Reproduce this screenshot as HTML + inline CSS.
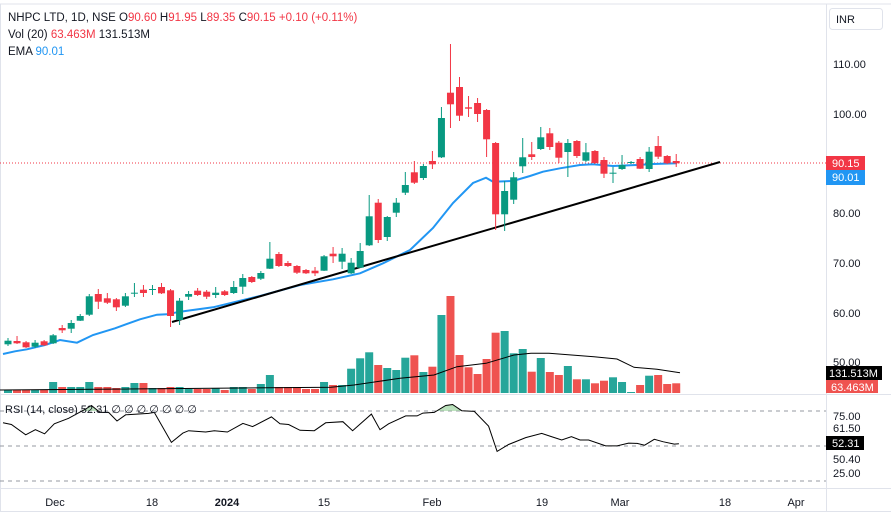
<!DOCTYPE html>
<html><head><meta charset="utf-8"><style>
html,body{margin:0;padding:0;background:#fff;}
svg{display:block;font-family:"Liberation Sans",sans-serif;}
</style></head><body>
<svg id="s" width="891" height="518" viewBox="0 0 891 518" xmlns="http://www.w3.org/2000/svg">
<rect width="891" height="518" fill="#fff"/>
<line x1="0" y1="4" x2="891" y2="4" stroke="#e0e3eb"/>
<line x1="826.5" y1="4" x2="826.5" y2="512" stroke="#e0e3eb"/>
<line x1="0" y1="394.5" x2="891" y2="394.5" stroke="#e0e3eb"/>
<line x1="0" y1="488.5" x2="891" y2="488.5" stroke="#e0e3eb"/>
<line x1="0" y1="511.5" x2="891" y2="511.5" stroke="#e0e3eb"/>
<line x1="0.5" y1="4" x2="0.5" y2="512" stroke="#e0e3eb"/>
<g id="vol"></g>
<polyline fill="none" stroke="#000" stroke-width="1" points="0,390 331,387.3 354,385 400,378.3 434,375 457,366.7 486,363.3 514,355 531,353.3 549,353.3 594,356.7 617,359 634,367.3 657,369.3 680,372.7"/>
<line x1="0" y1="163" x2="826" y2="163" stroke="#f23645" stroke-width="1" stroke-dasharray="1,2"/>
<polyline fill="none" stroke="#2196f3" stroke-width="2" points="3,354 15,351.3 27,349.3 45,345 60,340 77,342.7 93,335 115,328.3 140,319.3 157,314.7 167,314.3 180,311.7 213,307.3 260,296 300,285 333,279.3 360,273.3 383,263.3 410,250 433,228 453,203 473,183 486,177.7 493,181.7 513,181 530,176 543,171.7 560,168.3 580,165 593,164.3 613,166 637,165 653,164 677,163.3"/>
<line x1="172" y1="322" x2="720" y2="162" stroke="#000" stroke-width="2"/>
<g id="c"></g>
<text x="8" y="21" font-size="11.5" fill="#131722">NHPC LTD, 1D, NSE <tspan fill="#131722">O</tspan><tspan fill="#f23645">90.60</tspan> <tspan>H</tspan><tspan fill="#f23645">91.95</tspan> <tspan>L</tspan><tspan fill="#f23645">89.35</tspan> <tspan>C</tspan><tspan fill="#f23645">90.15</tspan> <tspan fill="#f23645">+0.10 (+0.11%)</tspan></text>
<text x="8" y="38" font-size="11.5" fill="#131722">Vol (20) <tspan fill="#f23645">63.463M</tspan> 131.513M</text>
<text x="8" y="55" font-size="11.5" fill="#131722">EMA <tspan fill="#2196f3">90.01</tspan></text>
<rect x="829.5" y="8.5" width="53" height="21" rx="3" fill="#fff" stroke="#e0e3eb"/>
<text x="836" y="23" font-size="11" fill="#131722">INR</text>
<g font-size="11" fill="#131722">
<text x="833" y="68">110.00</text><text x="833" y="118">100.00</text><text x="833" y="217">80.00</text>
<text x="833" y="267">70.00</text><text x="833" y="317">60.00</text><text x="833" y="366">50.00</text>
</g>
<rect x="826" y="156" width="39" height="14" fill="#f23645"/><text x="832" y="167" font-size="11" fill="#fff">90.15</text>
<rect x="826" y="170" width="39" height="15" fill="#2196f3"/><text x="832" y="181" font-size="11" fill="#fff">90.01</text>
<rect x="826" y="366" width="56" height="14" fill="#000"/><text x="829" y="377" font-size="11" fill="#fff">131.513M</text>
<rect x="826" y="380" width="52" height="13" fill="#ef5350"/><text x="831" y="391" font-size="11" fill="#fff">63.463M</text>
<!-- RSI -->
<g stroke="#9598a1" stroke-dasharray="4,4"><line x1="0" y1="411" x2="826" y2="411"/><line x1="0" y1="446" x2="826" y2="446"/><line x1="0" y1="481" x2="826" y2="481"/></g>
<defs><clipPath id="ob"><rect x="0" y="395" width="826" height="16"/></clipPath>
<linearGradient id="gg" x1="0" y1="0" x2="0" y2="1"><stop offset="0" stop-color="#81c784" stop-opacity="0.6"/><stop offset="1" stop-color="#c8e6c9" stop-opacity="0.2"/></linearGradient></defs>
<polygon id="rf" clip-path="url(#ob)" fill="url(#gg)" points=""/>
<polyline id="rl" fill="none" stroke="#000" stroke-width="1" points=""/>
<text x="5" y="413" font-size="11" fill="#131722">RSI (14, close) 52.31 ∅ ∅ ∅ ∅ ∅ ∅ ∅</text>
<g font-size="11" fill="#131722"><text x="833" y="420">75.00</text><text x="833" y="432">61.50</text><text x="833" y="463">50.40</text><text x="833" y="477">25.00</text></g>
<rect x="826" y="436" width="38" height="14" fill="#000"/><text x="832" y="447" font-size="11" fill="#fff">52.31</text>
<g font-size="11" fill="#131722" text-anchor="middle">
<text x="55" y="506">Dec</text><text x="152" y="506">18</text><text x="227" y="506" font-weight="bold">2024</text>
<text x="324" y="506">15</text><text x="432" y="506">Feb</text><text x="542" y="506">19</text>
<text x="620" y="506">Mar</text><text x="725" y="506">18</text><text x="796" y="506">Apr</text></g>
</svg>
<script>
var G='#089981',R='#f23645',NS='http://www.w3.org/2000/svg';
var d=[['g',340.7,344.3,338,346],['r',341,343.3,336,344],['r',342.3,347.3,341,348],['g',342.7,346.7,340,348],['r',341.3,345.3,340,346],['g',335.3,343.3,334,344],['r',328,330.3,325,333],['g',323,328.7,320,333],['g',316,320.7,314,321],['g',296.3,314.7,294,316],
['r',294,301.7,289,309],['r',298.3,302.7,293,304],['r',299.3,307.3,298,311],['g',296.3,305.7,293,307],['g',292.7,293.3,283,297],['r',289.7,293,285,297],['g',289,289.7,285,295],['r',287,293.3,283,294],['r',290.3,316,289,327],['g',300.7,320,298,325],
['g',294,296.7,291,300],['r',290.7,295,288,296],['r',291.7,296.7,290,299],['g',292.7,295,287,298],['r',291.3,295,290,296],['g',287,293,281,294],['g',278,286.7,274,294],['r',277,282,276,283],['g',273,278.7,271,280],['g',258.7,268.7,242,269],
['r',254,266,252,267],['r',263,266,261,267],['r',266,272.7,265,274],['r',270,273.3,269,274],['r',270.7,273.3,267,276],['g',256.3,270.7,255,271],['r',253.7,256.3,247,263],['g',253.7,261.7,248,269],['g',262.7,273.3,258,274],['g',251,267.7,243,268],
['g',216.3,245.3,195,246],['r',202.7,240,199,243],['g',217,237,216,241],['g',202.7,212.7,198,217],['g',185,192.7,172,195],['r',172.3,182.7,161,184],['g',166,178,164,180],['r',161,164.3,151,169],['g',118,157.3,107,158],['r',92.7,104.3,44,128],
['r',87,115.7,77,121],['r',107.3,108.7,96,117],['r',103,114,98,122],['r',110,139.3,109,157],['r',143,214.3,142,230],['g',191,214.3,181,231],['g',177.3,199.7,172,204],['g',157.3,166.3,138,173],['r',154.3,157,142,160],['g',137.3,149,127,150],
['r',133.3,147,128,150],['r',142.7,157.7,141,163],['g',143,152,139,177],['r',141,156,140,158],['g',152.3,160.7,143,162],['r',151,163,150,164],['r',160,173.7,157,178],['g',172.7,173.3,167,183],['g',165,169,155,170],['g',162,163,161,164],
['r',159,168.7,157,169],['g',151.7,169,147,172],['r',146,156.7,136,159],['r',156,163.3,155,164],['r',161,163.3,154,167]];
var vt=[390,390,390,390,390,382,387,387,387,382,387,387,388,387,383,383,388,388,387,387,389,389,389,388,390,387,387,389,384,375,387,387,387,389,389,382,385,385,368.7,358.3,352.3,365,368,370,357.7,355.3,372,366.7,315,296,355,367.3,374,359,332.7,331,353.3,349,371.7,358,372,375,366,379.3,379.3,383.3,380.7,377.3,382,392,385,375.7,375,384,383.3];
var c=document.getElementById('c'),v=document.getElementById('vol');
function el(p,t,a){var e=document.createElementNS(NS,t);for(var k in a)e.setAttribute(k,a[k]);p.appendChild(e);}
d.forEach(function(q,i){var x=8+i*9.03,col=q[0]=='g'?G:R;
el(c,'line',{x1:x,x2:x,y1:q[3],y2:q[4],stroke:col,'stroke-width':1});
el(c,'rect',{x:x-3.5,y:q[1],width:7,height:Math.max(1,q[2]-q[1]),fill:col});
el(v,'rect',{x:x-4,y:vt[i],width:8,height:393-vt[i],fill:q[0]=='g'?'#26a69a':'#ef5350'});});
var r="3,422.8 11.4,424.5 25.7,434.8 35.4,429.7 44.6,433.8 54.3,423.8 68.6,418.3 85.7,409 91.4,405.5 100,412.4 108.6,412.4 117,421 125.7,414.8 148.6,413.4 154.3,412.4 171.4,442.4 182.9,433.1 188.6,430.7 205.7,432 214.3,430.7 227.4,432 242.9,423.4 252.6,426.6 271.4,416.9 280,423.8 288.6,424.5 300,430.3 314.3,430.7 325.7,422.8 342.9,421.7 352.6,430.7 371.4,414.1 380,429.7 388.6,423.8 405.7,415.9 417.1,415.9 422.9,413.1 434.3,412.4 445.7,405.5 452.6,404.5 461.7,410.7 474.3,411.4 488.6,426.2 497.1,451.4 508.6,444.5 525.7,437.6 541.7,433.4 551.4,436.6 561.7,440 571.4,436.6 580,440 588.6,440 605.7,445.9 617.1,445.9 628.6,443.1 637.1,443.4 644.6,445.2 654.3,439.3 662.9,441.7 674.3,444.1 678.9,443.8";
document.getElementById('rl').setAttribute('points',r);
document.getElementById('rf').setAttribute('points','3,411 '+r+' 678.9,411');
</script>
</body></html>
